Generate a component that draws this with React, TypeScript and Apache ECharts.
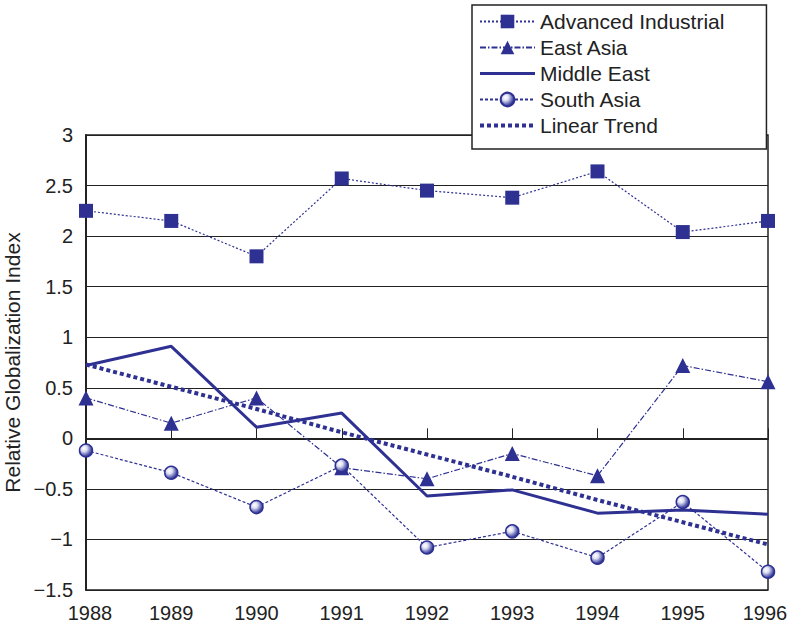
import React, { useEffect, useRef } from "react";
import * as echarts from "echarts";

const years = ["1988", "1989", "1990", "1991", "1992", "1993", "1994", "1995", "1996"];
const advancedIndustrial = [2.25, 2.15, 1.8, 2.57, 2.45, 2.38, 2.64, 2.04, 2.15];
const eastAsia = [0.4, 0.15, 0.4, -0.29, -0.4, -0.15, -0.37, 0.72, 0.56];
const middleEast = [0.72, 0.91, 0.11, 0.25, -0.57, -0.51, -0.74, -0.71, -0.75];
const southAsia = [-0.12, -0.34, -0.68, -0.27, -1.08, -0.92, -1.18, -0.63, -1.32];
const linearTrend = [0.73, 0.51, 0.29, 0.06, -0.16, -0.38, -0.61, -0.83, -1.05];

const NAVY = "#2e3192";
const FONT = "'Liberation Sans', Arial, Helvetica, sans-serif";
const FS = 21;
const AXFS = 20;

export default function App() {
  const ref = useRef<HTMLDivElement>(null);
  useEffect(() => {
    if (!ref.current) return;
    const chart = echarts.init(ref.current, undefined, { renderer: "svg" });
    const sphere = new echarts.graphic.RadialGradient(0.35, 0.35, 0.65, [
      { offset: 0, color: "#ffffff" },
      { offset: 0.35, color: "#dfe0f2" },
      { offset: 0.75, color: "#6a6fb8" },
      { offset: 1, color: NAVY },
    ]);
    const xData = years.map((y, i) => {
      if (i === 0) return { value: y, textStyle: { padding: [0, 0, 0, 8] } };
      if (i === years.length - 1) return { value: y, textStyle: { padding: [0, 6, 0, 0] } };
      return y;
    });
    chart.setOption({
      animation: false,
      textStyle: { fontFamily: FONT },
      grid: {
        left: 86,
        right: 21,
        top: 135,
        bottom: 35,
        containLabel: false,
        outerBoundsMode: "none",
        show: true,
        borderColor: "#222",
        borderWidth: 1.5,
        backgroundColor: "transparent",
      },
      legend: {
        left: 472,
        top: 5,
        orient: "vertical",
        backgroundColor: "#fff",
        borderColor: "#222",
        borderWidth: 1.5,
        padding: [6, 42, 13, 6],
        itemWidth: 55,
        itemHeight: 17,
        itemGap: 5,
        textStyle: { fontSize: FS, color: "#222", fontFamily: FONT },
        data: [
          { name: "Advanced Industrial" },
          { name: "East Asia" },
          { name: "Middle East", itemStyle: { opacity: 0 }, lineStyle: { width: 3 } },
          { name: "South Asia" },
          { name: "Linear Trend", itemStyle: { opacity: 0 }, lineStyle: { width: 4 } },
        ],
      },
      xAxis: {
        type: "category",
        data: xData,
        boundaryGap: false,
        axisLine: { lineStyle: { color: "#222", width: 2 } },
        axisTick: { inside: true, length: 10, lineStyle: { color: "#222" } },
        axisLabel: { fontSize: AXFS, color: "#222", margin: 13, fontFamily: FONT },
      },
      yAxis: {
        type: "value",
        min: -1.5,
        max: 3,
        interval: 0.5,
        name: "Relative Globalization Index",
        nameLocation: "middle",
        nameGap: 60,
        nameTextStyle: { fontSize: FS, color: "#222", fontFamily: FONT },
        axisLine: { show: true, lineStyle: { color: "#222", width: 2 } },
        axisTick: { show: false },
        splitLine: { lineStyle: { color: "#222", width: 1 } },
        axisLabel: {
          fontSize: AXFS,
          color: "#222",
          margin: 13,
          fontFamily: FONT,
          formatter: (v: number) => String(v).replace("-", "\u2212"),
        },
      },
      series: [
        {
          name: "Advanced Industrial",
          type: "line",
          data: advancedIndustrial,
          symbol: "rect",
          symbolSize: 14,
          itemStyle: { color: NAVY },
          lineStyle: { color: NAVY, width: 1.2, type: [2, 2] },
          z: 3,
        },
        {
          name: "East Asia",
          type: "line",
          data: eastAsia,
          symbol: "triangle",
          symbolSize: 15,
          itemStyle: { color: NAVY },
          lineStyle: { color: NAVY, width: 1.2, type: [6, 2, 1.5, 2] },
          z: 3,
        },
        {
          name: "Middle East",
          type: "line",
          data: middleEast,
          symbol: "none",
          itemStyle: { color: NAVY },
          lineStyle: { color: NAVY, width: 3 },
          z: 2,
        },
        {
          name: "South Asia",
          type: "line",
          data: southAsia,
          symbol: "circle",
          symbolSize: 13,
          itemStyle: { color: sphere, borderColor: NAVY, borderWidth: 1.5 },
          lineStyle: { color: NAVY, width: 1.2, type: [3, 2] },
          z: 3,
        },
        {
          name: "Linear Trend",
          type: "line",
          data: linearTrend,
          symbol: "none",
          itemStyle: { color: NAVY },
          lineStyle: { color: NAVY, width: 4, type: [4, 3] },
          z: 2,
        },
      ],
    });
    return () => chart.dispose();
  }, []);
  return <div ref={ref} style={{ width: 789, height: 625, position: "absolute", left: 0, top: 0 }} />;
}
